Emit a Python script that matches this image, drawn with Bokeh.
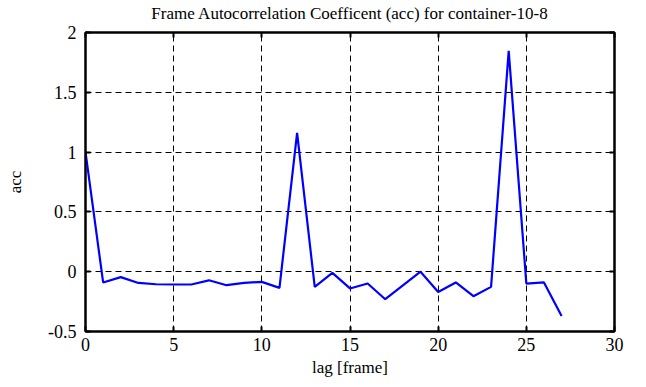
from bokeh.plotting import figure
from bokeh.models import Range1d, FixedTicker, LinearAxis, CustomJSTickFormatter
from bokeh.embed import file_html
from bokeh.resources import INLINE

lags = list(range(28))
acc = [1.0, -0.09, -0.045, -0.094, -0.105, -0.107, -0.107, -0.072, -0.113, -0.093,
       -0.085, -0.135, 1.16, -0.127, -0.01, -0.14, -0.099, -0.23, -0.115, 0.0,
       -0.17, -0.09, -0.205, -0.127, 1.846, -0.099, -0.09, -0.37]

x_ticks = [0, 5, 10, 15, 20, 25, 30]
x_tick_labels = ["0", "5", "10", "15", "20", "25", "30"]
y_ticks = [-0.5, 0, 0.5, 1, 1.5, 2]
y_tick_labels = ["-0.5", "0", "0.5", "1", "1.5", "2"]

title_text = "Frame Autocorrelation Coefficent (acc) for container-10-8"
x_label = "lag [frame]"
y_label = "acc"

FONT = "serif"
TICK_FONT = '"Liberation Serif", serif'

LABEL_CODE = """
let best = 0, bd = Infinity;
for (let i = 0; i < tvals.length; i++) {
  const d = Math.abs(tvals[i] - tick);
  if (d < bd) { bd = d; best = i; }
}
return tlabels[best];
"""

p = figure(width=638, height=379, output_backend="svg", toolbar_location=None,
           x_range=Range1d(0, 30), y_range=Range1d(-0.5, 2),
           min_border_left=85, min_border_right=24, min_border_top=32, min_border_bottom=48)

p.line(lags, acc, line_color="#0000ff", line_width=2.2)

p.outline_line_color = "black"
p.outline_line_width = 2
p.outline_line_alpha = 1

for ax in (p.xaxis[0], p.yaxis[0]):
    ax.major_tick_in = 5
    ax.major_tick_out = 0
    ax.minor_tick_in = 0
    ax.minor_tick_out = 0
    ax.axis_line_color = "black"
    ax.axis_line_width = 2
    ax.major_tick_line_width = 2
    ax.major_label_text_font = TICK_FONT
    ax.major_label_text_font_size = "18px"
    ax.major_label_text_font_style = "normal"
    ax.major_label_text_color = "black"
    ax.axis_label_text_font = FONT
    ax.axis_label_text_font_size = "17px"
    ax.axis_label_text_font_style = "normal"
    ax.axis_label_text_color = "black"

p.xaxis[0].ticker = FixedTicker(ticks=x_ticks)
p.xaxis[0].formatter = CustomJSTickFormatter(args=dict(tvals=x_ticks, tlabels=x_tick_labels), code=LABEL_CODE)
p.yaxis[0].ticker = FixedTicker(ticks=y_ticks)
p.yaxis[0].formatter = CustomJSTickFormatter(args=dict(tvals=y_ticks, tlabels=y_tick_labels), code=LABEL_CODE)
p.xaxis[0].axis_label = x_label
p.yaxis[0].axis_label = y_label
p.xaxis[0].major_label_standoff = 6
p.yaxis[0].major_label_standoff = 9
p.xaxis[0].axis_label_standoff = 4
p.yaxis[0].axis_label_standoff = 20

for loc, ticks in (("above", x_ticks), ("right", y_ticks)):
    ax = LinearAxis(ticker=FixedTicker(ticks=ticks),
                    formatter=CustomJSTickFormatter(code="return ''"))
    ax.major_tick_in = 5
    ax.major_tick_out = 0
    ax.minor_tick_in = 0
    ax.minor_tick_out = 0
    ax.major_tick_line_width = 2
    ax.axis_line_width = 2
    ax.major_label_standoff = 0
    if loc == "above":
        ax.axis_label = title_text
        ax.axis_label_text_font = FONT
        ax.axis_label_text_font_size = "17px"
        ax.axis_label_text_font_style = "normal"
        ax.axis_label_text_color = "black"
        ax.axis_label_standoff = 10
    p.add_layout(ax, loc)

p.xgrid.ticker = FixedTicker(ticks=x_ticks)
p.ygrid.ticker = FixedTicker(ticks=y_ticks)
for g in (p.xgrid[0], p.ygrid[0]):
    g.grid_line_color = "black"
    g.grid_line_alpha = 1
    g.grid_line_dash = "6 4"
    g.grid_line_width = 1

open("out.html", "w").write(file_html(p, INLINE))
